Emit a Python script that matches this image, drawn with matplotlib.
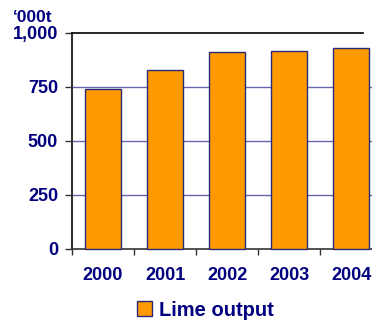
import matplotlib
matplotlib.use("Agg")
import matplotlib.pyplot as plt
from matplotlib.patches import Patch

years = ["2000", "2001", "2002", "2003", "2004"]
lime_output = [740, 827, 910, 915, 929]
y_ticks = [0, 250, 500, 750, 1000]
y_labels = ["0", "250", "500", "750", "1,000"]

NAVY = "#000080"
BAR = "#FF9900"
EDGE = "#2a2a7a"
GRID = "#6666b0"

plt.rcParams["font.family"] = ["Liberation Sans", "DejaVu Sans"]

fig = plt.figure(figsize=(3.72, 3.20), dpi=100)
ax = fig.add_axes([72 / 372, 1 - 248.5 / 320, 310 / 372, 215.8 / 320])

x = list(range(len(years)))
ax.bar(x, lime_output, width=0.59, color=BAR, edgecolor=EDGE, linewidth=1.0,
       zorder=3, clip_on=False)

ax.set_xlim(-0.5, len(years) - 0.5)
ax.set_ylim(0, 1000)
ax.set_yticks(y_ticks)
ax.set_yticklabels(y_labels)
for v in y_ticks[1:-1]:
    ax.axhline(v, color=GRID, lw=1.0, zorder=1, clip_on=False)
ax.axhline(1000, xmin=0, xmax=0.939, color="black", lw=1.2, zorder=4, clip_on=False)

ax.set_xticks(x)
ax.set_xticklabels(years)
ax.set_xticks([i - 0.5 for i in x], minor=True)
ax.tick_params(axis="x", which="major", length=0, pad=13)
ax.tick_params(axis="x", which="minor", length=4, color="#333333", width=1)
ax.tick_params(axis="y", length=5, color="#333333", width=1, pad=5)

for s in ["top", "right"]:
    ax.spines[s].set_visible(False)
ax.spines["left"].set_color("#333333")
ax.spines["left"].set_linewidth(1.5)
ax.spines["bottom"].set_color("#333333")
ax.spines["bottom"].set_linewidth(1.2)

for lab in ax.get_xticklabels() + ax.get_yticklabels():
    lab.set_color(NAVY)
    lab.set_fontweight("bold")
    lab.set_fontsize(13)

fig.text(13 / 372, 1 - 18 / 320, "\u2018000t", color=NAVY, fontsize=12.5,
         fontweight="bold", ha="left", va="center")

handle = Patch(facecolor=BAR, edgecolor=EDGE, linewidth=1.0)
fig.legend([handle], ["Lime output"], loc="center", bbox_to_anchor=(205 / 372, 1 - 310 / 320),
           frameon=False, prop={"weight": "bold", "size": 14.5}, handlelength=0.75,
           handleheight=0.75, handletextpad=0.35, labelcolor=NAVY)

fig.savefig("out.png", dpi=100)
